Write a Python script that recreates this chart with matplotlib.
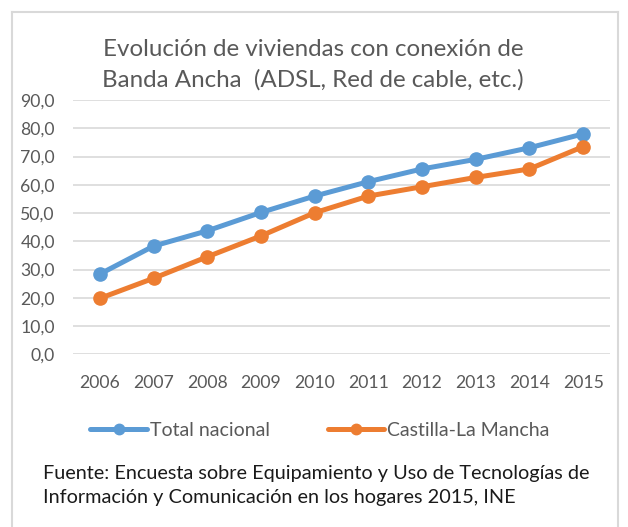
import matplotlib
matplotlib.use("Agg")
import matplotlib.pyplot as plt
from matplotlib.lines import Line2D

years = ["2006", "2007", "2008", "2009", "2010", "2011", "2012", "2013", "2014", "2015"]
total_nacional = [28.4, 38.3, 43.7, 50.2, 56.0, 61.1, 65.6, 69.0, 73.1, 78.0]
castilla_la_mancha = [19.8, 26.9, 34.5, 41.9, 50.1, 56.0, 59.3, 62.6, 65.6, 73.5]
series_names = ["Total nacional", "Castilla-La Mancha"]
yticks = [0, 10, 20, 30, 40, 50, 60, 70, 80, 90]
title = "Evolución de viviendas con conexión de\nBanda Ancha  (ADSL, Red de cable, etc.)"
source = ("Fuente: Encuesta sobre Equipamiento y Uso de Tecnologías de\n"
          "Información y Comunicación en los hogares 2015, INE")

plt.rcParams['font.family'] = ['Lato', 'DejaVu Sans']
W, H = 628, 527
fig = plt.figure(figsize=(W / 100, H / 100), dpi=100)
ax = fig.add_axes([73 / W, 1 - 354.3 / H, (610 - 73) / W, (354.3 - 100) / H])

blue = "#5B9BD5"
orange = "#ED7D31"
grey = "#595959"
x = list(range(len(years)))
ax.plot(x, total_nacional, color=blue, lw=3.6, marker="o", ms=9.5, label=series_names[0], solid_capstyle="round", zorder=3)
ax.plot(x, castilla_la_mancha, color=orange, lw=3.6, marker="o", ms=9.5, label=series_names[1], solid_capstyle="round", zorder=3)

ax.set_xlim(-0.5, len(years) - 0.5)
ax.set_ylim(0, 90)
ax.set_yticks(yticks)
ax.set_yticklabels([f"{v:.1f}".replace(".", ",") for v in yticks])
ax.set_xticks(x)
ax.set_xticklabels(years)
ax.grid(axis="y", color="#D9D9D9", lw=1.2)
ax.set_axisbelow(True)
for s in ax.spines.values():
    s.set_visible(False)
ax.tick_params(axis="both", length=0, labelsize=12.7, labelcolor=grey)
ax.tick_params(axis="y", pad=13)
ax.tick_params(axis="x", pad=15)

fig.text(313 / W, 1 - 64.5 / H, title, ha="center", va="center", fontsize=17.4,
         color=grey, linespacing=1.5)

handles = [Line2D([], [], color=blue, lw=3.6, marker="o", ms=7.5, solid_capstyle="round"),
           Line2D([], [], color=orange, lw=3.6, marker="o", ms=7.5, solid_capstyle="round")]
fig.legend(handles, series_names, loc="center", bbox_to_anchor=(320 / W, 1 - 430 / H),
           ncol=2, frameon=False, fontsize=14, labelcolor=grey, handlelength=2.9,
           handletextpad=0.15, columnspacing=3.0)

fig.text(43 / W, 1 - 486 / H, source, ha="left", va="center", fontsize=14.3,
         color="#1a1a1a", linespacing=1.5)

# chart border
bc = "#D9D9D9"
fig.add_artist(Line2D([11.5 / W, 11.5 / W], [0, 1 - 11.5 / H], color=bc, lw=1.5, transform=fig.transFigure))
fig.add_artist(Line2D([617.5 / W, 617.5 / W], [0, 1 - 11.5 / H], color=bc, lw=1.5, transform=fig.transFigure))
fig.add_artist(Line2D([11.5 / W, 617.5 / W], [1 - 11.5 / H, 1 - 11.5 / H], color=bc, lw=1.5, transform=fig.transFigure))

fig.savefig("out.png", dpi=100, facecolor="white")
